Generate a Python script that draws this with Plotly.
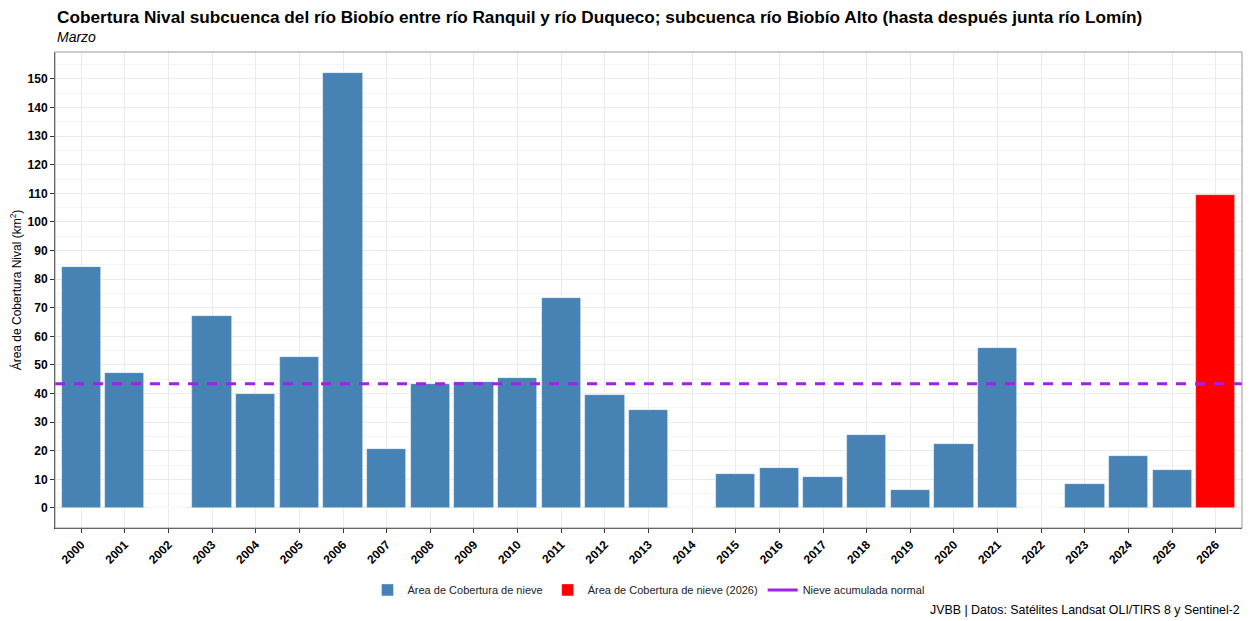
import plotly.graph_objects as go

years = list(range(2000, 2027))
values = [84.3, 47.3, 0, 67.1, 40.0, 52.8, 152.1, 20.6, 43.4, 43.9,
          45.5, 73.4, 39.4, 34.2, 0, 11.9, 14.0, 10.9, 25.5, 6.4,
          22.3, 56.0, 0, 8.4, 18.2, 13.3, 109.4]
normal_value = 43.4
current_year = 2026

hist_years = [y for y in years if y != current_year]
hist_vals = [v for y, v in zip(years, values) if y != current_year]
cur_vals = [v for y, v in zip(years, values) if y == current_year]

FONT = "Liberation Sans, Arial, Helvetica, sans-serif"

fig = go.Figure()
fig.add_trace(go.Bar(x=hist_years, y=hist_vals, width=0.9,
                     marker=dict(color="#4682B4", line=dict(color="rgba(255,255,255,0.6)", width=0.7)),
                     name="Área de Cobertura de nieve"))
fig.add_trace(go.Bar(x=[current_year], y=cur_vals, width=0.9,
                     marker=dict(color="#FF0000", line=dict(color="rgba(255,255,255,0.6)", width=0.7)),
                     name="Área de Cobertura de nieve (2026)"))
fig.add_trace(go.Scatter(x=[None], y=[None], mode="lines",
                         line=dict(color="#A020F0", width=3),
                         name="Nieve acumulada normal"))

fig.add_shape(type="line", xref="paper", x0=0, x1=1, yref="y", y0=normal_value, y1=normal_value,
              line=dict(color="#A020F0", width=3, dash="10px,9px"), layer="above")
# panel border (top/right grey)
fig.add_shape(type="rect", xref="paper", yref="paper", x0=0, x1=1, y0=0, y1=1,
              line=dict(color="#999999", width=1), layer="above")

# page body has an 8px default margin, so size/margins compensate for it
fig.update_layout(
    width=1244, height=613,
    margin=dict(l=47, r=10, t=44, b=93, autoexpand=False),
    paper_bgcolor="white", plot_bgcolor="white",
    font=dict(family=FONT, color="black"),
    barmode="overlay",
    bargap=0,
    showlegend=True,
    legend=dict(orientation="h", x=0.5, xanchor="center", y=-0.13, yanchor="middle",
                font=dict(size=11, color="#222222"), traceorder="normal", itemwidth=30),
    xaxis=dict(range=[1999.4, 2026.6], tickmode="array", tickvals=years,
               ticktext=[str(y) for y in years], tickangle=-45, automargin=False,
               tickfont=dict(size=12, family=FONT, color="black", weight="bold"),
               showgrid=True, gridcolor="#EBEBEB", gridwidth=1.2,
               showline=True, linecolor="#333333", linewidth=1,
               ticks="outside", ticklen=4, tickcolor="#333333", zeroline=False),
    yaxis=dict(range=[-7, 159.4], tickmode="array", tickvals=list(range(0, 151, 10)),
               automargin=False,
               tickfont=dict(size=12, family=FONT, color="black", weight="bold"),
               showgrid=True, gridcolor="#EBEBEB", gridwidth=1.2,
               minor=dict(tickvals=list(range(5, 160, 10)), showgrid=True, gridcolor="#F4F4F4", gridwidth=0.8),
               showline=True, linecolor="#333333", linewidth=1,
               ticks="outside", ticklen=4, tickcolor="#333333", zeroline=False,
               title=dict(text="Área de Cobertura Nival (km<sup>2</sup>)", font=dict(size=12, family=FONT), standoff=4)),
    annotations=[
        dict(text="<b>Cobertura Nival subcuenca del río Biobío entre río Ranquil y río Duqueco; subcuenca río Biobío Alto (hasta después junta río Lomín)</b>",
             xref="paper", yref="paper", x=0, y=1.0725, xanchor="left", yanchor="middle",
             showarrow=False, font=dict(size=17.2, family=FONT, color="black")),
        dict(text="<i>Marzo</i>", xref="paper", yref="paper", x=0, y=1.0315,
             xanchor="left", yanchor="middle", showarrow=False,
             font=dict(size=14, family=FONT, color="black")),
        dict(text="JVBB | Datos: Satélites Landsat OLI/TIRS 8 y Sentinel-2", xref="paper", yref="paper",
             x=1, y=-0.172, xanchor="right", yanchor="middle", showarrow=False,
             font=dict(size=12.4, family=FONT, color="black")),
    ],
)

fig.write_html("out.html")
